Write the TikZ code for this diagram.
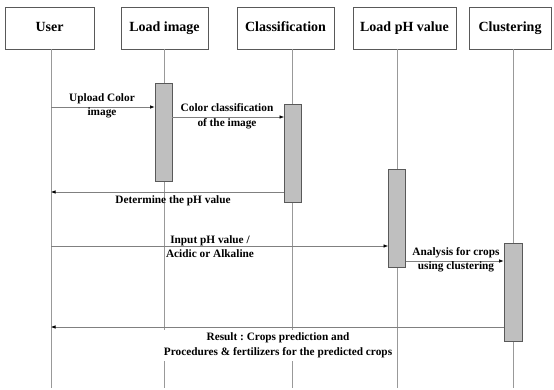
\documentclass[tikz,border=0pt]{standalone}
\usepackage{fontspec}
\setmainfont{Liberation Serif}
\usetikzlibrary{arrows.meta}
\frenchspacing
\begin{document}
\begin{tikzpicture}[x=1pt,y=-1pt,
  head/.style={draw=black!65,line width=0.9pt,fill=white,minimum height=42pt,inner sep=0pt,text height=10pt,text depth=3pt,font=\bfseries\fontsize{14}{16}\selectfont},
  life/.style={draw=black!40,line width=0.6pt},
  act/.style={draw=black!65,line width=0.9pt,fill=black!25,minimum width=17pt,minimum height=98pt,inner sep=0pt},
  msg/.style={draw=black!50,line width=0.6pt,-{Latex[length=4.5pt,width=3.5pt,black]}},
  lab/.style={font=\bfseries\fontsize{11.3}{14.5}\selectfont,align=center,inner sep=1pt}]
\useasboundingbox (0,0) rectangle (554,390);
% headers
\node[head,minimum width=89pt] (hU) at (49.5,28) {User};
\node[head,minimum width=87pt] (hL) at (164.5,28) {Load image};
\node[head,minimum width=97pt] (hC) at (285.5,28) {Classification};
\node[head,minimum width=103pt] (hP) at (404.5,28) {Load pH value};
\node[head,minimum width=82pt] (hK) at (510,28) {Clustering};
% lifeline ends
\coordinate (uT) at (51,49); \coordinate (uB) at (51,388);
\coordinate (lT) at (164,49); \coordinate (lB) at (164,388);
\coordinate (cT) at (292,49); \coordinate (cB) at (292,388);
\coordinate (pT) at (397,49); \coordinate (pB) at (397,388);
\coordinate (kT) at (513,49); \coordinate (kB) at (513,388);
\draw[life] (uT) -- (uB);
\draw[life] (lT) -- (lB);
\draw[life] (cT) -- (cB);
\draw[life] (pT) -- (pB);
\draw[life] (kT) -- (kB);
% activations
\node[act] (a1) at (163.5,132) {};
\node[act] (a2) at (293,153) {};
\node[act] (a3) at (397,218) {};
\node[act,minimum width=18pt] (a4) at (513,292) {};
% message anchors
\coordinate (m1) at (51,107);
\coordinate (m3) at (51,192);
\coordinate (m4) at (51,246);
\coordinate (m6) at (51,327);
\coordinate (m2) at (172,117);
\coordinate (m5) at (406,261);
% messages
\draw[msg] (m1) -- (a1.west |- m1);
\node[lab] (t1) at (102,106) {Upload Color\\image};
\draw[msg] (a1.east |- m2) -- (a2.west |- m2);
\node[lab] (t2) at (227,116.5) {Color classification\\of the image};
\draw[msg] (a2.west |- m3) -- (m3);
\node[lab] (t3) at (173,201) {Determine the pH value};
\draw[msg] (m4) -- (a3.west |- m4);
\node[lab] (t4) at (210,246.5) {Input pH value /\\Acidic or Alkaline};
\draw[msg] (a3.east |- m5) -- (a4.west |- m5);
\node[lab] (t5) at (456,260) {Analysis for crops\\using clustering};
\draw[msg] (a4.west |- m6) -- (m6);
\node[lab,fill=white,inner sep=3pt] (t6) at (278,345.5) {Result : Crops prediction and\\Procedures \& fertilizers for the predicted crops};
\end{tikzpicture}
\end{document}
